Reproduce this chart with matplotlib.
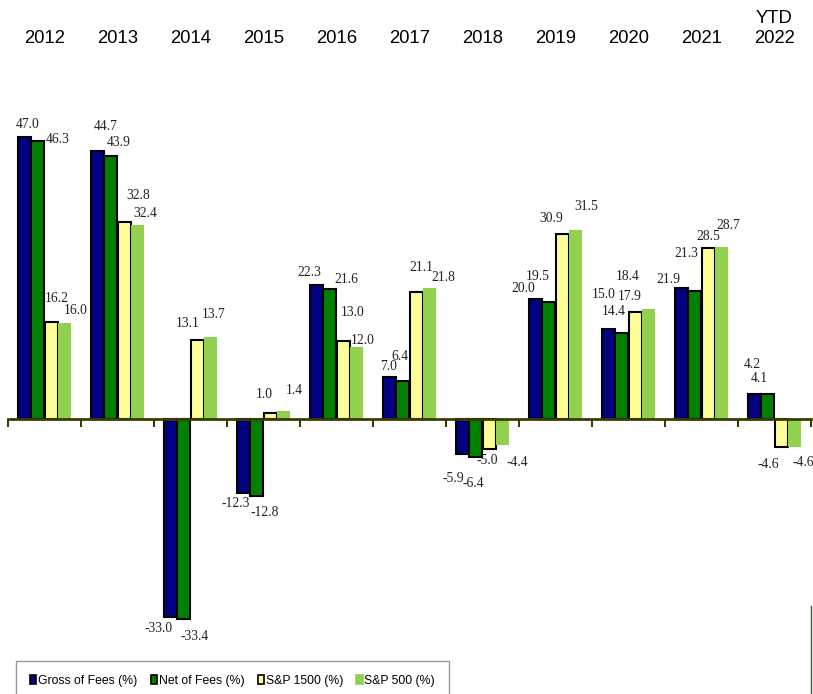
"""
Annual returns bar chart: composite (gross / net of fees) vs S&P 1500 and S&P 500.
"""
import matplotlib
matplotlib.use('Agg')
import matplotlib.pyplot as plt
from matplotlib.lines import Line2D
from matplotlib.patches import Patch
import matplotlib.transforms as mtransforms
import numpy as np

# === Data ===
years = ['2012', '2013', '2014', '2015', '2016', '2017', '2018', '2019', '2020', '2021', 'YTD\n2022']
gross = [47.0, 44.7, -33.0, -12.3, 22.3, 7.0, -5.9, 20.0, 15.0, 21.9, 4.2]
net = [46.3, 43.9, -33.4, -12.8, 21.6, 6.4, -6.4, 19.5, 14.4, 21.3, 4.1]
sp1500 = [16.2, 32.8, 13.1, 1.0, 13.0, 21.1, -5.0, 30.9, 17.9, 28.5, -4.6]
sp500 = [16.0, 32.4, 13.7, 1.4, 12.0, 21.8, -4.4, 31.5, 18.4, 28.7, -4.6]
series_names = ['Gross of Fees (%)', 'Net of Fees (%)', 'S&P 1500 (%)', 'S&P 500 (%)']

# === Colours ===
NAVY = '#000080'
GREEN = '#008000'
PALE_YELLOW = '#FFFF99'
LIGHT_GREEN = '#92D050'
AXIS_OLIVE = '#3C3C00'
TEXT = '#222222'

# label nudges (pixels, image-style: +dy = downward) relative to bar end
nudge_gross = [(3, -13), (8, -24), (-12, 11), (-8, 11), (-7, -13), (-1, -10),
               (-9, 24), (-12, -10), (-5, -34), (-13, -8), (-2, -29)]
nudge_net = [(20, -2), (8, -13), (11, 17), (8, 17), (17, -10), (-3, -24),
             (-2, 26), (-11, -25), (-8, -21), (-8, -38), (-8, -16)]
nudge_1500 = [(5, -23), (14, -27), (-10, -17), (-6, -19), (9, -28), (5, -25),
              (-2, 12), (-11, -15), (-6, -15), (0, -11), (-13, 18)]
nudge_500 = [(11, -13), (8, -11), (3, -22), (11, -20), (6, -7), (14, -11),
             (15, 17), (11, -24), (-21, -32), (7, -21), (9, 16)]

# === Figure ===
W, H = 813, 694
fig = plt.figure(figsize=(W / 100, H / 100), dpi=100, facecolor='white')
ax = fig.add_axes([8 / W, 35 / H, 803 / W, 600 / H])

x = np.arange(len(years))
bw = 0.178
offsets = [-0.274, -0.096, 0.096, 0.274]
values = [gross, net, sp1500, sp500]
colors = [NAVY, GREEN, PALE_YELLOW, LIGHT_GREEN]
edges = ['black', 'black', 'black', 'none']
nudges = [nudge_gross, nudge_net, nudge_1500, nudge_500]

for vals, off, col, ec, nud in zip(values, offsets, colors, edges, nudges):
    ax.bar(x + off, vals, bw, color=col, edgecolor=ec, linewidth=1.5, zorder=3)
    for xi, v, (dx, dy) in zip(x + off, vals, nud):
        ax.annotate(f'{v:.1f}', xy=(xi, v), xytext=(dx, -dy), textcoords='offset pixels',
                    ha='center', va='center', fontsize=9.8, family='Liberation Serif',
                    color=TEXT, zorder=5)

ax.set_xlim(-0.5, len(years) - 0.5)
ax.set_ylim(-40, 60)

# zero axis with ticks between groups
for s in ['top', 'right', 'left']:
    ax.spines[s].set_visible(False)
ax.spines['bottom'].set_position(('data', 0))
ax.spines['bottom'].set_color(AXIS_OLIVE)
ax.spines['bottom'].set_linewidth(2)
ax.spines['bottom'].set_zorder(4)
ax.set_yticks([])
ax.set_xticks(np.arange(len(years) + 1) - 0.5)
ax.tick_params(axis='x', direction='out', length=6, width=1.5, color=AXIS_OLIVE,
               labelbottom=False)

# year headers at top
trans = mtransforms.blended_transform_factory(ax.transData, fig.transFigure)
for xi, yr in zip(x, years):
    ax.text(xi, 1 - 43 / H, yr, transform=trans, ha='center', va='baseline',
            fontsize=13.3, family='Liberation Sans', color='black', linespacing=1.25)

# legend
handles = [Patch(facecolor=c, edgecolor=e if e != 'none' else c, linewidth=1.2)
           for c, e in zip(colors, edges)]
leg = fig.legend(handles, series_names, loc='upper left', bbox_to_anchor=(16 / W, 1 - 661 / H),
                 ncol=4, frameon=True, fancybox=False, edgecolor='#808080',
                 handlelength=0.5, handleheight=0.8, handletextpad=0.15,
                 columnspacing=1.1, borderpad=1.15, borderaxespad=0,
                 prop={'family': 'Liberation Sans', 'size': 8.8})
leg.get_frame().set_linewidth(1)

# stray vertical edge at the right
fig.add_artist(Line2D([811 / W, 811 / W], [0, 1 - 606 / H], transform=fig.transFigure,
                      color='#3D5C3D', linewidth=1))

plt.savefig('out.png', dpi=100, facecolor='white')
plt.close()
